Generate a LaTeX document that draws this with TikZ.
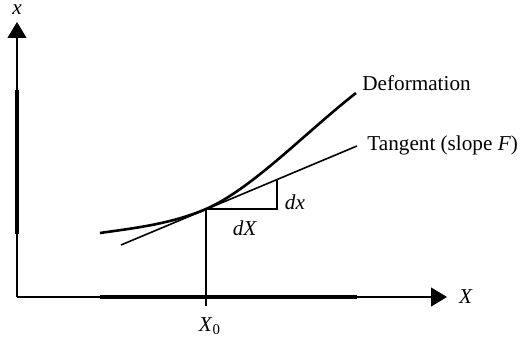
\documentclass[tikz,border=0pt]{standalone}
\usepackage{fontspec}
\setmainfont{Liberation Serif}
\usetikzlibrary{arrows.meta}
\begin{document}
\begin{tikzpicture}[x=0.5pt,y=-0.5pt,
  axis/.style={line width=0.55pt},
  thickbar/.style={line width=2.2pt},
  deform/.style={line width=1.3pt},
  tangentline/.style={line width=0.8pt},
  thin/.style={line width=0.6pt},
  lbl/.style={font=\fontsize{10.6}{12.5}\selectfont, inner sep=0pt},
  tip/.style={-{Triangle[length=8pt,width=9.5pt]}}]
\useasboundingbox (0,0) rectangle (521,341);
% coordinates
\coordinate (O) at (17,297);
\coordinate (ytip) at (17,22);
\coordinate (xtip) at (447,297);
\coordinate (yb1) at (17,90);
\coordinate (yb2) at (17,234);
\coordinate (xb1) at (100,297);
\coordinate (xb2) at (357,297);
\coordinate (T) at (206,209);
\coordinate (tick) at (206,306);
\coordinate (C) at (277,209);
\coordinate (D) at (277,179);
\coordinate (c0) at (100,233);
\coordinate (c2) at (356,93);
\coordinate (t0) at (121,245);
\coordinate (t1) at (357,146);
% axes
\draw[axis,tip] (O) -- (ytip);
\draw[axis,tip] (O) -- (xtip);
\draw[thickbar] (yb1) -- (yb2);
\draw[thickbar] (xb1) -- (xb2);
% vertical from X0
\draw[thin] (tick) -- (T);
% triangle
\draw[thin] (T) -- (C) -- (D);
% tangent
\draw[tangentline] (t0) -- (t1);
% deformation curve
\draw[deform] (c0) .. controls (135,228) and (171,224) .. (T)
  .. controls (252,189) and (306,132) .. (c2);
% labels
\node[lbl] (xl) at (17,10) {\textit{x}};
\node[lbl] (Xl) at (466,297) {\textit{X}};
\node[lbl,anchor=west] (deflbl) at (362,83) {Deformation};
\node[lbl,anchor=west] (tanlbl) at (367,145) {Tangent (slope \textit{F})};
\node[lbl] (dxl) at (295,202) {\textit{dx}};
\node[lbl] (dXl) at (245,228) {\textit{dX}};
\node[lbl] (X0l) at (210,326) {\textit{X}\textsubscript{0}};
\end{tikzpicture}
\end{document}
